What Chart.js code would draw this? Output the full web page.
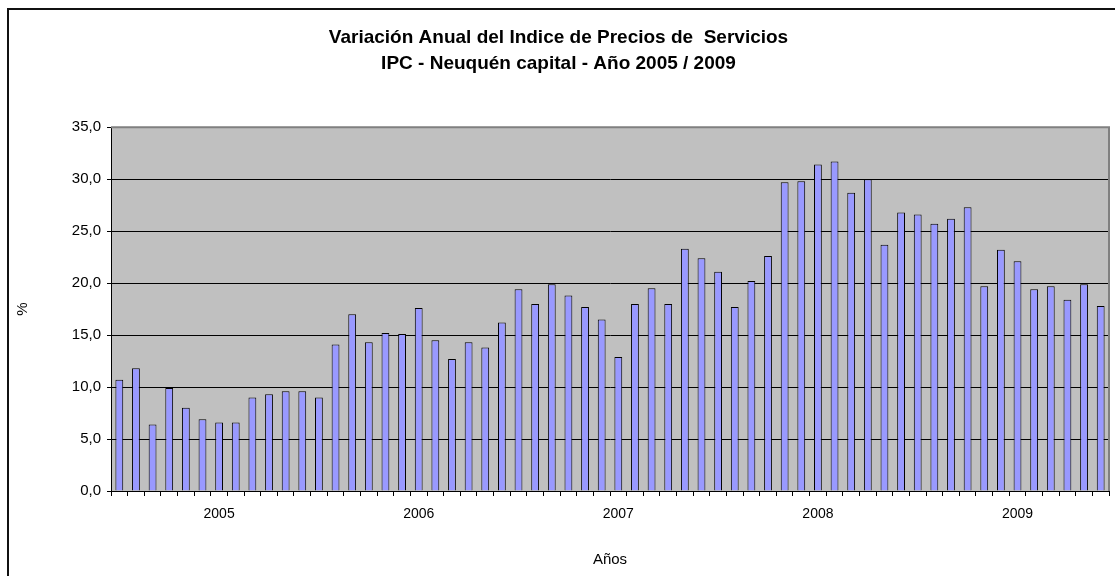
<!DOCTYPE html>
<html lang="es">
<head>
<meta charset="utf-8">
<title>Variación Anual del Indice de Precios de Servicios</title>
<script src="https://cdn.jsdelivr.net/npm/chart.js@4.4.1/dist/chart.umd.min.js"></script>
<style>
  html, body { margin: 0; padding: 0; background: #fff; }
  #wrap { position: relative; width: 1115px; height: 576px; overflow: hidden; }
  #frame { position: absolute; left: 7px; top: 8px; width: 1200px; height: 700px;
           border-left: 2px solid #111; border-top: 2px solid #111; }
  #grafico { position: absolute; left: 0; top: 0; }
</style>
</head>
<body>
<div id="wrap">
  <div id="frame"></div>
  <canvas id="grafico" width="1115" height="576"></canvas>
</div>
<script>
// datos: variación anual (%) mes a mes, ene 2005 - dic 2009
const years = ['2005', '2006', '2007', '2008', '2009'];
const months = ['Ene', 'Feb', 'Mar', 'Abr', 'May', 'Jun', 'Jul', 'Ago', 'Sep', 'Oct', 'Nov', 'Dic'];
const variacion = [
  10.7, 11.8, 6.4, 9.9, 8.0, 6.9, 6.6, 6.6, 9.0, 9.3, 9.6, 9.6,
  9.0, 14.1, 17.0, 14.3, 15.2, 15.1, 17.6, 14.5, 12.7, 14.3, 13.8, 16.2,
  19.4, 18.0, 19.9, 18.8, 17.7, 16.5, 12.9, 18.0, 19.5, 18.0, 23.3, 22.4,
  21.1, 17.7, 20.2, 22.6, 29.7, 29.8, 31.4, 31.7, 28.7, 30.0, 23.7, 26.8,
  26.6, 25.7, 26.2, 27.3, 19.7, 23.2, 22.1, 19.4, 19.7, 18.4, 19.9, 17.8
];
const yTicks = [0, 5, 10, 15, 20, 25, 30, 35];

// etiquetas de categoria (mes + año)
const categorias = [];
years.forEach(y => months.forEach(m => categorias.push(m + ' ' + y)));

const fuente = "'Liberation Sans', Arial, sans-serif";

// fondo gris del area de trazado y borde superior/derecho
const areaPlugin = {
  id: 'areaPlugin',
  beforeDraw(chart) {
    const { ctx, chartArea: a } = chart;
    ctx.save();
    ctx.fillStyle = '#c0c0c0';
    ctx.fillRect(a.left, a.top, a.right - a.left, a.bottom - a.top);
    ctx.restore();
  },
  afterDraw(chart) {
    const { ctx, chartArea: a } = chart;
    ctx.save();
    ctx.strokeStyle = '#808080';
    ctx.lineWidth = 2;
    ctx.beginPath();
    ctx.moveTo(a.left, a.top);
    ctx.lineTo(a.right, a.top);
    ctx.lineTo(a.right, a.bottom);
    ctx.stroke();
    ctx.restore();
  }
};

new Chart(document.getElementById('grafico'), {
  type: 'bar',
  data: {
    labels: categorias,
    datasets: [{
      label: 'Variación anual',
      data: variacion,
      backgroundColor: '#9999ff',
      borderColor: '#000000',
      borderWidth: 1,
      borderSkipped: 'bottom',
      barPercentage: 0.47,
      categoryPercentage: 1.0
    }]
  },
  options: {
    responsive: false,
    animation: false,
    layout: { padding: { left: 8, right: 6, top: 0, bottom: 4 } },
    plugins: {
      legend: { display: false },
      tooltip: { enabled: false },
      title: {
        display: true,
        text: ['Variación Anual del Indice de Precios de  Servicios',
               'IPC - Neuquén capital - Año 2005 / 2009'],
        color: '#000',
        font: { family: fuente, size: 19, weight: 'bold', lineHeight: 1.4 },
        padding: { top: 24, bottom: 50 }
      }
    },
    scales: {
      x: {
        offset: true,
        grid: {
          offset: true,
          drawOnChartArea: false,
          drawTicks: true,
          tickLength: 5,
          tickColor: '#000'
        },
        border: { color: '#000', width: 1 },
        ticks: {
          autoSkip: false,
          maxRotation: 0,
          padding: 10,
          color: '#000',
          font: { family: fuente, size: 14 },
          // año centrado bajo julio
          callback: (v, i) => (i % 12 === 6 ? years[Math.floor(i / 12)] : '')
        },
        title: {
          display: true,
          text: 'Años',
          color: '#000',
          font: { family: fuente, size: 15 },
          padding: { top: 0, bottom: 3 }
        },
        afterFit: s => { s.height = 81; }
      },
      y: {
        min: 0,
        max: 35,
        afterBuildTicks: s => { s.ticks = yTicks.map(v => ({ value: v })); },
        grid: {
          color: ctx => (ctx.tick && ctx.tick.value === 35 ? 'rgba(0,0,0,0)' : '#000'),
          tickColor: '#000',
          tickLength: 4
        },
        border: { color: '#000', width: 1 },
        ticks: {
          padding: 6,
          color: '#000',
          font: { family: fuente, size: 15 },
          callback: v => v.toFixed(1).replace('.', ',')
        },
        title: {
          display: true,
          text: '%',
          color: '#000',
          font: { family: fuente, size: 15 },
          padding: { top: 6, bottom: 0 }
        },
        afterFit: s => { s.width = 103; }
      }
    }
  },
  plugins: [areaPlugin]
});
</script>
</body>
</html>
